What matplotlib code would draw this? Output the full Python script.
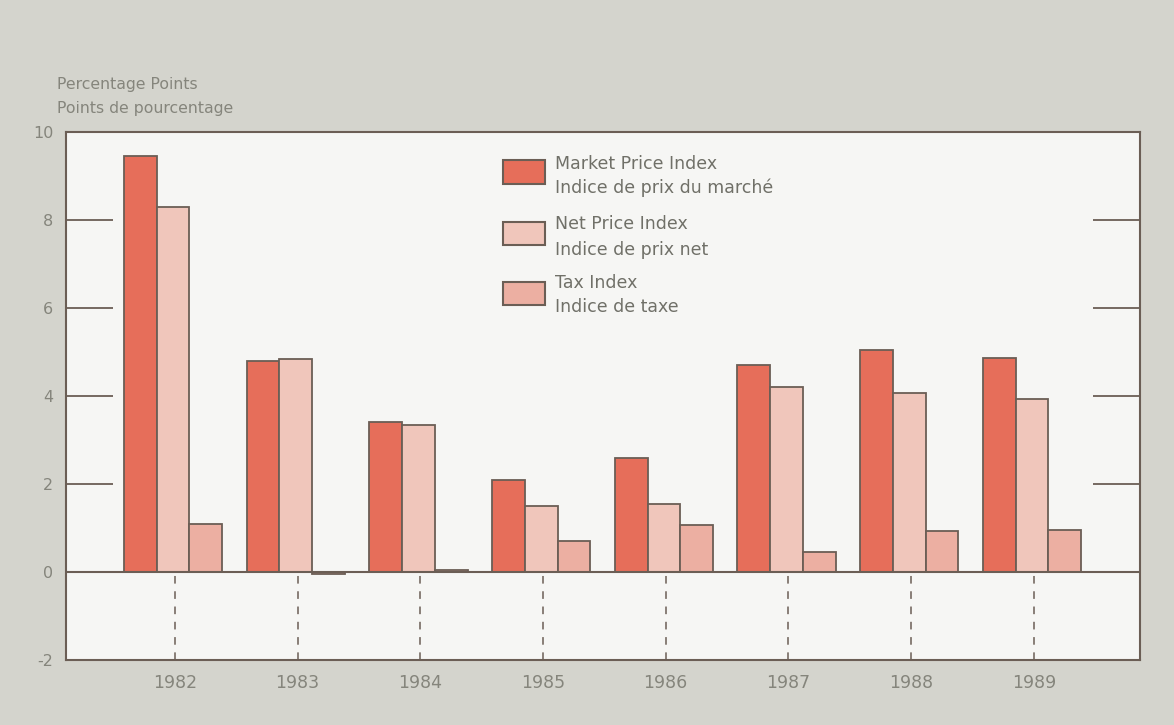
import matplotlib
matplotlib.use("Agg")
import matplotlib.pyplot as plt
from matplotlib.patches import Rectangle
import numpy as np

years = ["1982", "1983", "1984", "1985", "1986", "1987", "1988", "1989"]
market_price = [9.45, 4.8, 3.4, 2.1, 2.6, 4.7, 5.05, 4.87]
net_price = [8.3, 4.85, 3.35, 1.5, 1.55, 4.2, 4.07, 3.93]
tax_index = [1.1, -0.05, 0.05, 0.7, 1.06, 0.45, 0.93, 0.95]

series_labels = [("Market Price Index", "Indice de prix du marché"),
                 ("Net Price Index", "Indice de prix net"),
                 ("Tax Index", "Indice de taxe")]
colors = ["#e66e5a", "#f0c6bb", "#ecafa2"]
edge = "#6b5e55"
text_col = "#85857c"

fig = plt.figure(figsize=(11.74, 7.25), dpi=100)
fig.patch.set_facecolor("#d4d4cd")
ax = fig.add_axes([0.0562, 0.0897, 0.9148, 0.7283])
ax.set_facecolor("#f6f6f4")

x = np.arange(len(years))
w = 0.267
for i, (vals, c) in enumerate(zip([market_price, net_price, tax_index], colors)):
    ax.bar(x + (i - 1) * w - 0.015, vals, width=w, color=c, edgecolor=edge,
           linewidth=1.3, zorder=3)

ax.axhline(0, color=edge, linewidth=1.5, zorder=4)
ax.vlines(x, -2, 0, colors=edge, linestyles=(0, (5, 5)), linewidth=1.1, zorder=2)

ax.set_xlim(-0.888, 7.865)
ax.set_ylim(-2, 10)
ax.set_yticks([-2, 0, 2, 4, 6, 8, 10])
ax.set_yticklabels(["-2", "0", "2", "4", "6", "8", "10"])
ax.set_xticks(x)
ax.set_xticklabels(years)
ax.tick_params(axis="y", direction="in", length=34, width=1.3, color=edge,
               left=True, right=True, labelsize=11.5, labelcolor=text_col, pad=9)
ax.tick_params(axis="x", length=0, labelsize=12.5, labelcolor=text_col, pad=10)
for s in ax.spines.values():
    s.set_color(edge)
    s.set_linewidth(1.5)

# y-axis title
fig.text(57 / 1174, 1 - 85 / 725, "Percentage Points", fontsize=11.3, color=text_col,
         va="center", ha="left")
fig.text(57 / 1174, 1 - 108 / 725, "Points de pourcentage", fontsize=11.3, color=text_col,
         va="center", ha="left")

# legend
patch_y = [(0.9015, 0.947), (0.786, 0.8295), (0.672, 0.716)]
text_y = [(0.939, 0.894), (0.826, 0.777), (0.714, 0.669)]
for (y0, y1), (t1, t2), c, (l1, l2) in zip(patch_y, text_y, colors, series_labels):
    ax.add_patch(Rectangle((0.407, y0), 0.039, y1 - y0, transform=ax.transAxes,
                           facecolor=c, edgecolor=edge, linewidth=1.5, zorder=5))
    ax.text(0.455, t1, l1, transform=ax.transAxes, fontsize=12.5, color="#707068",
            va="center", ha="left")
    ax.text(0.455, t2, l2, transform=ax.transAxes, fontsize=12.5, color="#707068",
            va="center", ha="left")

fig.savefig("out.png", dpi=100, facecolor=fig.get_facecolor())
